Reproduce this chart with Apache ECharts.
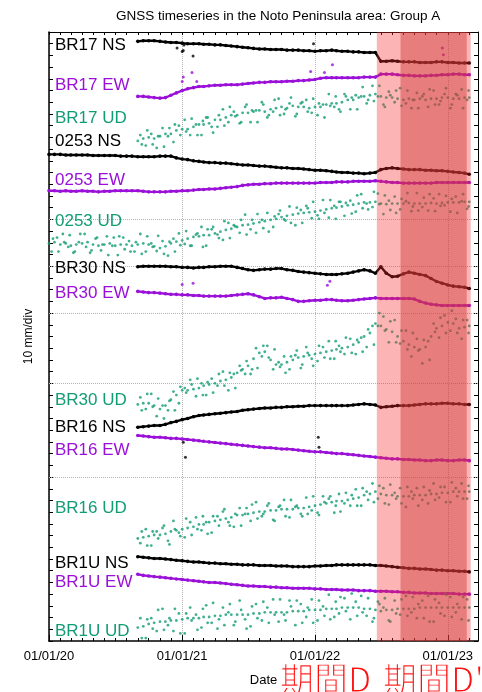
<!DOCTYPE html>
<html>
<head>
<meta charset="utf-8">
<title>GNSS timeseries Group A</title>
<script src="https://cdn.jsdelivr.net/npm/echarts@6/dist/echarts.min.js"></script>
<style>
  html, body { margin: 0; padding: 0; background: #fff; }
  #chart { width: 482px; height: 692px; }
</style>
</head>
<body>
<div id="chart"></div>
<script>
// sample dates: 1st/16th for the trend readings, other days for the extra UD scatter readings
function pad(n) { return n < 10 ? '0' + n : '' + n; }
function semiMonthly(y, m, n, days) {
  var out = [];
  for (var k = 0; k < n; k++) {
    var mm = m + Math.floor(k / 2);
    out.push((y + Math.floor(mm / 12)) + '-' + pad(mm % 12 + 1) + '-' + days[k % 2]);
  }
  return out;
}
var brDates = semiMonthly(2020, 8, 61, ['01', '16']);
var gsiDates = semiMonthly(2020, 0, 77, ['01', '16']);
var brDates2 = semiMonthly(2020, 8, 60, ['08', '23']);
var gsiDates2 = semiMonthly(2020, 0, 76, ['08', '23']);
var brDates3 = semiMonthly(2020, 8, 60, ['12', '27']);
var gsiDates3 = semiMonthly(2020, 0, 76, ['12', '27']);

// offsets on the stacked axis (mm) and displacement (mm)
var br17NsBase = 512;
var br17Ns = [0,0.5,0.5,0.5,0,-0.5,-1,-1,-1.5,-2, -2,-2,-2.5,-2.5,-3,-3,-3.5,-4,-4.5,-5, -5.5,-6,-6.5,-6.5,-7,-7,-7,-7.5,-7.5,-7.5, -8,-8,-8.5,-8,-8,-7.5,-8,-8.5,-8.5,-9, -9,-9.5,-9.5,-9.5,-17,-17,-16.5,-17,-17.5,-17.5, -17.5,-18,-18,-18,-17.5,-17.5,-18,-18,-18.5,-18.5,-18.5];
var br17NsOut = [['2020-12-18',506.4],['2021-01-01',503.3],['2021-01-04',504.2],['2021-01-06',509],['2021-01-31',499.6],['2021-12-28',510]];

var br17EwBase = 465;
var br17Ew = [0,0,-0.5,-1,-1.5,-1,1,3,5,6.5, 7.5,8.5,8.5,9,9.5,9.5,10,10,10,10.5, 11,11.5,12,12,12.5,12.5,12.5,13,13,13.5, 13.5,14,14.5,15.5,16,16,16,16,16,16, 16,16.5,16.5,16.5,19,19,19,18.5,18,18, 17.5,17.5,17.5,18,18,18.5,18.5,19,19,18.5,18.5];
var br17EwOut = [['2021-01-01',477.8],['2021-01-04',481.6],['2021-01-28',485.5],['2021-02-10',477.8],['2021-12-20',486.3],['2022-01-27',485.4],['2022-02-18',492],['2022-12-17',506.4],['2022-12-20',500.5]];

var br17UdBase = 427;
var br17Ud = [0,2,3,2,4,6,6,9,10,10, 12,14,14,15,18,18,20,22,22,24, 24,25,26,25,27,28,29,28,30,29, 29,28,29,29,31,32,32,33,35,35, 37,38,39,40,38,37,37,36,35,36, 35,36,35,36,36,37,37,36,36,37,37];
var br17UdScatter = [5,-4,6,-6,11,4,-1,13,18,5, 14,5,20,12,12,27,16,25,15,29, 16,26,33,20,25,36,23,32,21,32, 35,24,22,31,40,29,27,40,27,39, 38,32,47,38,31,42,33,45,32,28, 41,38,29,43,31,40,28,40,44,35];
var br17UdScatter2 = [-3,9,-3,4,-5,11,14,5,8,19, 5,17,20,7,22,13,29,21,16,31, 26,16,31,22,35,22,27,37,23,33, 25,36,32,20,30,38,25,38,37,27, 46,35,34,47,29,39,43,30,43,35, 28,40,44,31,34,45,31,39,28,43];

var g0253NsBase = 415.5;
var g0253Ns = [0,0,0,-0.5,-0.5,-0.5,-0.5,-0.5,-1,-1, -1,-1,-1,-1.5,-1.5,-1.5,-2,-2,-2,-2, -1.5,-1.5,-1.5,-3,-4,-4.5,-5.5,-6,-6.5,-7, -7,-7.5,-7.5,-8,-8.5,-9,-9,-9.5,-10,-10, -10.5,-11,-11.5,-11.5,-12,-12,-12.5,-13,-13.5,-13.5, -14,-14.5,-15,-15.5,-15.5,-16,-16,-16.5,-16,-15.5, -13,-12,-11.5,-12,-12.5,-13,-13,-13,-13.5,-13.5, -14,-14,-14.5,-15,-15.5,-16,-17];

var g0253EwBase = 384.5;
var g0253Ew = [0,0,-0.5,0,-0.5,-0.5,0,-0.5,-0.5,-1, -0.5,-0.5,0,0,0,0, 0,-0.5,-1,-1,-1,-1,-0.5, -0.5,0,0,0.5,1,1,1.5, 1.5,2,2.5,3,3.5,4.5,5, 5.5,5.5,6,6,6.5,6.5,6.5, 6.5,6.5,6.5,6.5,6.5,7,7, 7,7.5,7.5,7.5,8,8,8,8,8.5, 8,7.5,7,7,6.5,6.5,6.5,6.5,6.5,6.5,7,7,7,7,7,7,7];

var g0253UdBase = 339.5;
var g0253Ud = [0,1,-1,0,-2,-1,0,1,-1,-2,-1,0,-2,-1,-1,-2, -1,0,-1,-2.5,-4,-2.5,0, 1.5,2.5,4,5.5,6,7,7, 8.5,10,11.5,12.5,14,15.5,16, 17,18,19,20,21,22.5,23.5, 24.5,25.5,26,26.5,27,28,29, 30,30.5,31.5,32.5,33,34,35,35,35.5, 34,33.5,34,34,34,34.5,34,34,34,34.5,34,34.5,35,35,35,35.5,35.5];
var g0253UdScatter = [-7,5,8,-3,-8,1,8,-8,4,-6,6,-2,-10,5,2,-7, 8,-7,0,-6.5,2,-10.5,4, 8.5,-0.5,-2,7.5,14,-2,12, 7.5,3,17.5,15.5,9,24.5,12, 9,20,26,14,25,20.5,31.5, 15.5,28.5,32,21.5,24,37,22, 32,35.5,23.5,36.5,27,42,34,31,42.5, 25,36.5,40,29,36,27.5,43,31,28,38.5,42,32.5,27,40,36,29.5];
var g0253UdScatter2 = [4,-7,1,7,-7,8,-3,-6,5,-1,-10,5,6,-5,-7,1, -9,6,-3,6.5,-9,1.5,-7, -1.5,10.5,-2,8.5,-3,12,14, 4.5,19,4.5,14.5,20,7.5,20, 25,13,10,23,28,19.5,17.5, 30.5,17.5,30,35.5,21,26,37, 21,35.5,34.5,25.5,41,30,29,44,33.5, 41,28.5,26,38,43,31.5,28,39,42,27.5,32,40.5,38,26,42,31.5];

var br30NsBase = 319.5;
var br30Ns = [0,0.5,0.5,0.5,0.5,0.5,0,0,-0.5,-0.5, -1,-0.5,-0.5,0,0,0.5,0.5,0.5,-0.5,-1.5, -2.5,-3,-2.5,-2,-2,-1.5,-1.5,-2.5,-3,-4, -4.5,-5,-5.5,-6,-6.5,-6.5,-6.5,-6,-5.5,-4.5, -3.5,-2.5,-3.5,-5.5,0,-5.5,-8.5,-8,-6,-4.5, -5.5,-6.5,-7.5,-10,-12.5,-14,-15.5,-16.5,-17,-17.5,-18.5];

var br30EwBase = 298.5;
var br30Ew = [0,-0.5,-1,-1,-1.5,-2,-2.5,-2.5,-3,-3, -3.5,-3.5,-4,-4,-4,-4,-4,-3.5,-3,-2.5, -2,-3,-4.5,-6,-5.5,-5.5,-5,-6,-7,-8.5, -8.5,-8,-7.5,-7.5,-7,-7,-7.5,-8,-8,-7.5, -7,-6.5,-6,-5.5,-6,-6,-6,-6,-6,-6, -6.5,-8.5,-10,-11,-11.5,-12,-12,-12,-12,-12,-12];
var br30EwOut = [['2021-01-01',304.5],['2021-01-31',305.4],['2022-02-04',303.7],['2022-02-11',307.1]];

var br30UdBase = 202;
var br30Ud = [0,1,1,-1,-4,-1,4,8,12,12, 13,14,16,17,18,20,21,23,27,30, 33,39,44,45,38,34,34,36,38,40, 41,42,43,44,45,46,47,48,49,51, 53,58,61,69,67,64,62,58,54,51, 49,47,49,58,65,67,70,69,65,66,67];
var br30UdScatter = [6,-4,9,-10,-1,-5,11,1,14,21, 7,18,8,22,16,28,12,26,33,26, 26,48,41,50,30,36,41,30,42,31, 49,39,37,49,54,39,50,43,56,43, 57,49,67,67,75,53,72,52,63,41, 56,35,54,69,57,76,63,73,56,72];
var br30UdScatter2 = [-5,9,-2,5,-12,3,-5,15,10,17, 22,8,19,10,26,16,27,14,29,37, 30,31,50,40,47,32,27,41,46,34, 44,33,50,40,39,54,45,57,44,55, 45,64,51,78,63,71,53,63,47,61, 46,55,38,62,74,61,80,61,72,61];

var br16NsBase = 182.5;
var br16Ns = [0,0.5,1,1.5,1.5,2.5,4,5,6.5,7.5, 9,10,10.5,11,11.5,12,12.5,13,13.5,14.5, 15,15.5,16,16.5,16.5,17,17,17.5,17.5,18, 18,18.5,18.5,18.5,18.5,18.5,18.5,18.5,18.5,19, 19.5,20,19.5,19,17,17.5,18,18.5,18.5,18.5, 19,19.5,20,20,20,20.5,20.5,20,20,19.5,19.5];
var br16NsOut = [['2021-01-04',169.7],['2021-01-10',157],['2022-01-10',173.9],['2022-01-12',165.4]];

var br16EwBase = 175.5;
var br16Ew = [0,-0.5,-1,-1.5,-1.5,-2,-2.5,-2.5,-3,-3.5, -4,-4.5,-5,-5.5,-6,-6.5,-7,-7.5,-8,-8.5, -9,-9.5,-10,-10.5,-10.5,-11,-11.5,-11.5,-12,-12.5, -13,-13.5,-14,-14,-14.5,-15,-15.5,-15.5,-16,-16.5, -17,-17.5,-18,-18.5,-19,-19.5,-20,-20,-20.5,-20.5, -21,-21,-21.5,-21.5,-21,-21,-21.5,-21.5,-21,-21,-21.5];

var br16UdBase = 87.5;
var br16Ud = [0,1,2,3,3,4,6,7,8,9, 10,12,12,14,15,16,17,18,20,20, 21,22,23,23,24,24,25,25,25,26, 26,27,28,29,30,31,32,32,33,34, 35,37,38,40,38,37,37,36,36,36, 37,37,37,38,38,39,39,40,40,40,40];
var br16UdScatter = [-4,8,-6,6,9,-2,15,5,1,14, 18,7,14,5,19,23,14,10,26,21, 15,31,19,28,16,27,33,18,27,21, 35,24,22,36,34,22,38,30,28,42, 28,40,47,34,43,29,39,43,27,40, 43,33,30,47,35,44,31,43,47,34];
var br16UdScatter2 = [6,-6,6,0,11,-5,8,2,17,3, 8,19,4,19,11,25,11,21,11,26, 29,17,21,30,15,28,19,33,28,19, 21,36,20,31,36,28,23,39,37,28, 43,33,31,45,30,46,34,30,44,34, 28,44,41,33,44,31,48,36,34,45];

var br1uNsBase = 72;
var br1uNs = [0,-0.5,-1,-1.5,-1.5,-2,-2.5,-3,-3.5,-4, -4.5,-4.5,-5,-5.5,-5.5,-6,-6,-6.5,-6.5,-7, -7,-7,-7.5,-7.5,-7.5,-8,-8,-8,-8.5,-8.5, -8.5,-8.5,-8,-8,-7.5,-7.5,-7,-7,-7,-7, -7,-7,-7,-7.5,-7.5,-8,-8.5,-9,-9.5,-10, -10,-10.5,-10.5,-11,-11.5,-11.5,-12,-12,-12.5,-12.5,-13];

var br1uEwBase = 57;
var br1uEw = [0,-1,-1.5,-2,-2.5,-3,-3.5,-4,-4.5,-5, -5.5,-6,-6.5,-7,-7,-7.5,-8,-8.5,-9,-9.5, -10,-10,-10.5,-10.5,-11,-11,-11.5,-11.5,-12,-12, -12,-12,-12.5,-12.5,-13,-13,-13,-13.5,-13.5,-13.5, -14,-14,-14,-14.5,-14.5,-14.5,-15,-15,-15.5,-15.5, -16,-16,-16,-16.5,-16.5,-16.5,-16.5,-16.5,-17,-17,-17];

var br1uUdBase = 11.5;
var br1uUd = [0,1,3,4,5,5,6,6,7,8, 8,8,9,9,10,10,11,11,11,11, 11,12,12,13,13,13,13,13,14,14, 14,15,15,15,16,16,16,17,17,17, 17,16,16,15,14,15,15,16,16,16, 16,17,17,17,17,17,17,17,17,17,17];
var br1uUdScatter = [8,-9,8,-3,16,2,-3,12,-5,17, 11,0,19,4,-1,17,13,2,23,7, 1,20,6,17,24,5,11,23,2,20, 9,24,6,18,28,9,12,25,7,22, 27,10,5,22,17,6,23,11,27,13, 8,23,27,5,21,10,26,13,7,24];
var br1uUdScatter2 = [-9,7,-1,15,-2,8,16,-5,12,6, -2,16,4,21,7,2,20,5,15,-1, 18,8,22,4,11,24,6,18,23,4, 17,4,23,10,7,22,26,14,29,10, 13,25,8,20,25,5,12,24,10,26, 20,8,5,24,12,28,9,20,26,6];

// periods D and D'
var periodD = ['2022-06-20', '2023-03-05'];
var periodD2 = ['2022-08-24', '2023-02-22'];
var hGrid = [140, 220, 280, 320, 360];

var BLACK = '#000000', PURPLE = '#9a10d8', GREEN = '#129c74';

var defs = [
  { name: 'BR17 NS', dates: brDates, base: br17NsBase, d: br17Ns, out: br17NsOut, color: BLACK, ly: 45 },
  { name: 'BR17 EW', dates: brDates, base: br17EwBase, d: br17Ew, out: br17EwOut, color: PURPLE, ly: 85 },
  { name: 'BR17 UD', dates: brDates, base: br17UdBase, d: br17Ud, ud: [[brDates2, br17UdScatter], [brDates3, br17UdScatter2]], color: GREEN, ly: 118 },
  { name: '0253 NS', dates: gsiDates, base: g0253NsBase, d: g0253Ns, color: BLACK, ly: 141 },
  { name: '0253 EW', dates: gsiDates, base: g0253EwBase, d: g0253Ew, color: PURPLE, ly: 180 },
  { name: '0253 UD', dates: gsiDates, base: g0253UdBase, d: g0253Ud, ud: [[gsiDates2, g0253UdScatter], [gsiDates3, g0253UdScatter2]], color: GREEN, ly: 221 },
  { name: 'BR30 NS', dates: brDates, base: br30NsBase, d: br30Ns, color: BLACK, ly: 268 },
  { name: 'BR30 EW', dates: brDates, base: br30EwBase, d: br30Ew, out: br30EwOut, color: PURPLE, ly: 293 },
  { name: 'BR30 UD', dates: brDates, base: br30UdBase, d: br30Ud, ud: [[brDates2, br30UdScatter], [brDates3, br30UdScatter2]], color: GREEN, ly: 400 },
  { name: 'BR16 NS', dates: brDates, base: br16NsBase, d: br16Ns, out: br16NsOut, color: BLACK, ly: 427 },
  { name: 'BR16 EW', dates: brDates, base: br16EwBase, d: br16Ew, color: PURPLE, ly: 450 },
  { name: 'BR16 UD', dates: brDates, base: br16UdBase, d: br16Ud, ud: [[brDates2, br16UdScatter], [brDates3, br16UdScatter2]], color: GREEN, ly: 508 },
  { name: 'BR1U NS', dates: brDates, base: br1uNsBase, d: br1uNs, color: BLACK, ly: 563 },
  { name: 'BR1U EW', dates: brDates, base: br1uEwBase, d: br1uEw, color: PURPLE, ly: 582 },
  { name: 'BR1U UD', dates: brDates, base: br1uUdBase, d: br1uUd, ud: [[brDates2, br1uUdScatter], [brDates3, br1uUdScatter2]], color: GREEN, ly: 631 }
];

var FONT = 'Liberation Sans, Arial, Helvetica, sans-serif';
var DAY = 86400000;

function fmtDate(v) {
  var d = new Date(v);
  return pad(d.getMonth() + 1) + '/' + pad(d.getDate()) + '/' + pad(d.getFullYear() % 100);
}

var series = [];
defs.forEach(function (s) {
  var pts = s.dates.map(function (dt, i) { return [dt, +(s.base + s.d[i]).toFixed(1)]; });
  if (s.ud) {
    // UD: noisy cloud of daily points, drawn as dots
    s.ud.forEach(function (pair) {
      pts = pts.concat(pair[0].map(function (dt, i) { return [dt, +(s.base + pair[1][i]).toFixed(1)]; }));
    });
    series.push({
      name: s.name, type: 'scatter', symbol: 'circle', symbolSize: 2.8, z: 3, silent: true,
      itemStyle: { color: s.color }, data: pts
    });
  } else {
    // NS / EW: tight band of daily points
    series.push({
      name: s.name, type: 'line', showSymbol: true, symbol: 'circle', symbolSize: 3.6, z: 3, silent: true,
      lineStyle: { color: s.color, width: 2.4 }, itemStyle: { color: s.color, borderWidth: 0 },
      data: pts
    });
    if (s.out) {
      series.push({
        name: s.name, type: 'scatter', symbol: 'circle', symbolSize: 3, z: 3, silent: true,
        itemStyle: { color: s.color }, data: s.out
      });
    }
  }
});

// grid lines behind the data
series.push({
  type: 'scatter', data: [], z: 1, silent: true,
  markLine: {
    z: 1, silent: true, symbol: 'none', label: { show: false },
    lineStyle: { type: 'dotted', color: '#b4b4b4', width: 1 },
    data: hGrid.map(function (v) { return { yAxis: v }; })
  }
});

// shaded periods drawn over the points
series.push({
  type: 'scatter', data: [], z: 10, silent: true,
  markArea: {
    z: 10, silent: true,
    data: [
      [{ xAxis: periodD[0], itemStyle: { color: 'rgba(250,40,40,0.35)' } }, { xAxis: periodD[1] }],
      [{ xAxis: periodD2[0], itemStyle: { color: 'rgba(205,60,60,0.46)' } }, { xAxis: periodD2[1] }]
    ]
  }
});

var labels = defs.map(function (s) {
  return {
    type: 'text', x: 55, y: s.ly, z: 20,
    style: { text: s.name, fill: s.color, font: '17px ' + FONT, verticalAlign: 'middle' }
  };
});
// red period captions; a white outline drawn on top thins the CJK glyphs
var captions = [{ text: '期間D', x: 280 }, { text: "期間D'", x: 383 }];
captions.forEach(function (c) {
  labels.push({ type: 'text', x: c.x, y: 662, z: 20,
    style: { text: c.text, fill: '#ff1010', font: '34px "Noto Sans CJK JP"', verticalAlign: 'top' } });
  labels.push({ type: 'text', x: c.x, y: 662, z: 21,
    style: { text: c.text, fill: 'rgba(0,0,0,0)', stroke: '#fff', lineWidth: 1.2, font: '34px "Noto Sans CJK JP"', verticalAlign: 'top' } });
});

var xMin = '2020-01-01', xMax = '2023-03-25';
var monthAxis = function (pos) {
  return {
    type: 'time', min: xMin, max: xMax, position: pos,
    minInterval: 28 * DAY, maxInterval: 31 * DAY,
    axisLine: { show: pos === 'top', onZero: false, lineStyle: { color: '#000', width: 1.2 } },
    axisTick: { inside: true, length: 3, lineStyle: { color: '#000' } },
    axisLabel: { show: false },
    splitLine: { show: false }
  };
};

var chart = echarts.init(document.getElementById('chart'));
chart.setOption({
  animation: false,
  backgroundColor: '#fff',
  title: {
    text: 'GNSS timeseries in the Noto Peninsula area: Group A',
    left: 111, top: 4,
    textStyle: { fontFamily: FONT, fontSize: 13.5, fontWeight: 'normal', color: '#000' }
  },
  grid: { left: 49, right: 4, top: 32, bottom: 47 },
  xAxis: [
    {
      type: 'time', min: xMin, max: xMax, position: 'bottom',
      minInterval: 365 * DAY, maxInterval: 366 * DAY,
      name: 'Date', nameLocation: 'middle', nameGap: 33,
      nameTextStyle: { fontFamily: FONT, fontSize: 13, color: '#000' },
      axisLine: { onZero: false, lineStyle: { color: '#000', width: 1.5 } },
      axisTick: { inside: true, length: 6, lineStyle: { color: '#000' } },
      axisLabel: { formatter: fmtDate, fontFamily: FONT, fontSize: 13, color: '#000', margin: 9, showMinLabel: true },
      splitLine: { show: true, lineStyle: { type: 'dotted', color: '#b4b4b4', width: 1 } }
    },
    monthAxis('bottom'),
    monthAxis('top')
  ],
  yAxis: [
    {
      type: 'value', min: 0, max: 520, interval: 10, position: 'left',
      name: '10 mm/div', nameLocation: 'middle', nameGap: 14, nameRotate: 90,
      nameTextStyle: { fontFamily: FONT, fontSize: 12, color: '#000' },
      axisLine: { show: true, onZero: false, lineStyle: { color: '#000', width: 1.5 } },
      axisTick: { show: true, inside: true, length: 4, lineStyle: { color: '#000' } },
      axisLabel: { show: false },
      splitLine: { show: false }
    },
    {
      type: 'value', min: 0, max: 520, interval: 10, position: 'right',
      axisLine: { show: true, onZero: false, lineStyle: { color: '#000', width: 1 } },
      axisTick: { show: true, inside: true, length: 4, lineStyle: { color: '#000' } },
      axisLabel: { show: false },
      splitLine: { show: false }
    }
  ],
  graphic: labels,
  series: series
});
</script>
</body>
</html>
